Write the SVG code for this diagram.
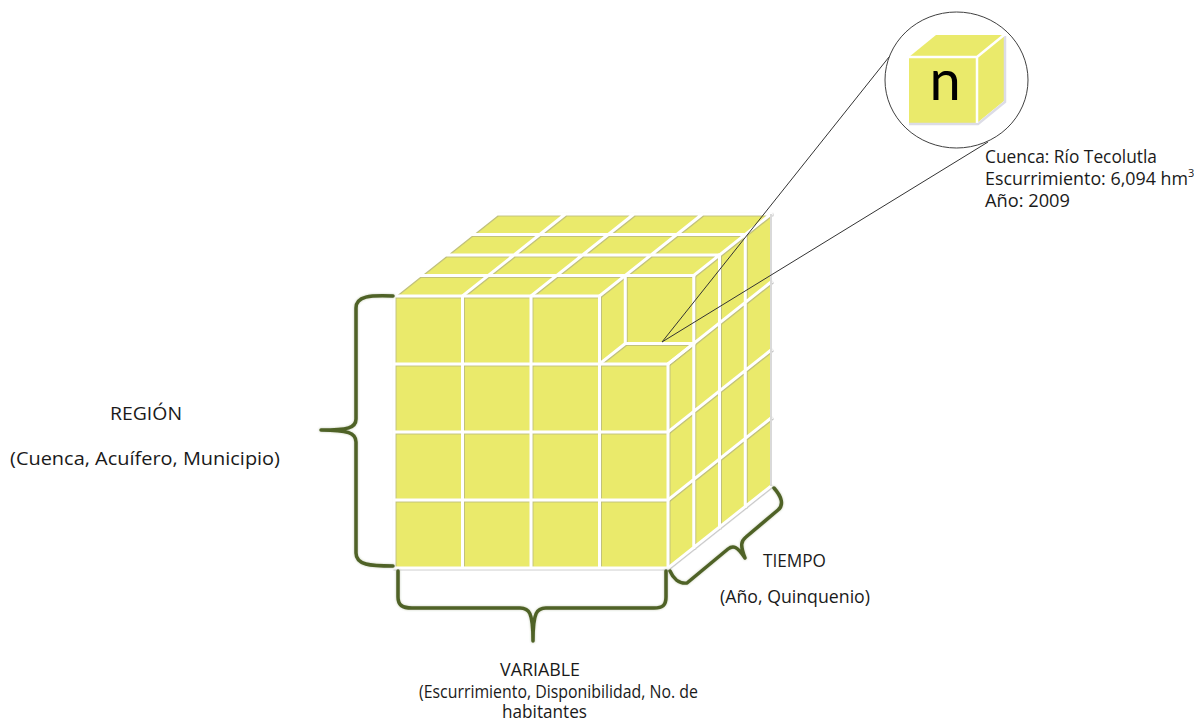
<svg xmlns="http://www.w3.org/2000/svg" width="1194" height="723" viewBox="0 0 1194 723">
  <defs>
    <style>
      .txt { font-family: "Open Sans", Lato, sans-serif; font-size: 18px; fill: #1a1a1a; }
      .face { fill: #EAEA6B; }
      .grid { stroke: #ffffff; stroke-width: 3; stroke-linecap: square; fill: none; }
      .edge { stroke: #d7d7d7; stroke-width: 2; fill: none; }
      .brace { fill: none; stroke: #4F6228; stroke-width: 3.5; stroke-linecap: round; stroke-linejoin: round; }
      .link { stroke: #333333; stroke-width: 1; fill: none; }
    </style>
    <filter id="lineShade" x="-5%" y="-5%" width="110%" height="110%">
      <feDropShadow dx="0.8" dy="0.8" stdDeviation="0.6" flood-color="#8c8c8c" flood-opacity="0.55"/>
    </filter>
    <filter id="braceGlow" x="-20%" y="-20%" width="140%" height="140%">
      <feGaussianBlur in="SourceGraphic" stdDeviation="0.5" result="b"/>
      <feDropShadow in="b" dx="0" dy="0" stdDeviation="1.2" flood-color="#4F6228" flood-opacity="0.35"/>
    </filter>
  </defs>

  <rect width="1194" height="723" fill="#ffffff"/>

  <!-- 4x4x4 data cube with the top-right-front cell pulled out -->
  <g id="cube">
    <polygon class="face" points="394,568 394,296 497,214 771,214 771,486 668,568"/>
    <polyline class="edge" points="771,214 771,486 668,568"/>
    <g filter="url(#lineShade)">
      <!-- front face -->
      <path class="grid" d="M394,296 V568 M462.5,296 V568 M531,296 V568 M599.5,296 V568 M668,364 V568
                           M394,296 H599.5 M394,364 H668 M394,432 H668 M394,500 H668 M394,568 H668"/>
      <!-- recess around the removed cell -->
      <path class="grid" d="M599.5,364 L625.25,343.5 M625.25,275.5 V343.5 M625.25,343.5 H693.75 M668,364 L693.75,343.5"/>
      <!-- top face -->
      <path class="grid" d="M394,296 L497,214 M462.5,296 L565.5,214 M531,296 L634,214 M599.5,296 L702.5,214 M693.75,275.5 L771,214
                           M419.75,275.5 H693.75 M445.5,255 H719.5 M471.25,234.5 H745.25 M497,214 H771"/>
      <!-- right face -->
      <path class="grid" d="M693.75,275.5 V547.5 M719.5,255 V527 M745.25,234.5 V506.5
                           M668,364 L771,282 M668,432 L771,350 M668,500 L771,418 M668,568 L771,486"/>
    </g>
    <line x1="771" y1="214" x2="771" y2="486" stroke="#d9d9d9" stroke-width="2"/>
  </g>

  <!-- call-out lines from the pulled-out cell to the magnified view -->
  <g id="connectors">
    <line class="link" x1="662" y1="342" x2="889" y2="57"/>
    <line class="link" x1="662" y1="342" x2="988" y2="142"/>
  </g>

  <!-- magnified single cell -->
  <g id="zoom-cell">
    <ellipse cx="956.5" cy="80" rx="71.5" ry="68" fill="#ffffff" stroke="#404040" stroke-width="1"/>
    <polygon class="face" points="909,57 977,57 977,123 909,123"/>
    <polygon class="face" points="909,57 936,35 1004,35 977,57"/>
    <polygon class="face" points="977,57 1004,35 1004,101 977,123"/>
    <polyline points="1005,36 1005,102 978,124 909,124" fill="none" stroke="#dcdce6" stroke-width="2.5"/>
    <path d="M909,57 H977 V123 M977,57 L1004,35" fill="none" stroke="#ffffff" stroke-width="2.5"/>
    <text x="945" y="100" text-anchor="middle" font-family="Lato, 'Open Sans', sans-serif" font-size="56" fill="#000000">n</text>
  </g>

  <g id="cell-info" class="txt">
    <text x="985" y="163" textLength="172" lengthAdjust="spacingAndGlyphs">Cuenca: Río Tecolutla</text>
    <text x="985" y="185" textLength="203" lengthAdjust="spacingAndGlyphs">Escurrimiento: 6,094 hm</text>
    <text x="1188" y="177" font-size="11">3</text>
    <text x="985" y="207" textLength="85" lengthAdjust="spacingAndGlyphs">Año: 2009</text>
  </g>

  <!-- REGIÓN axis -->
  <g id="axis-region">
    <path class="brace" filter="url(#braceGlow)" d="M393,296 C370,295 356,296 356,308 L356,419 C356,428 348,430 321,430 C348,430 356,433 356,442 L356,553 C356,565 370,566 393,566"/>
    <text class="txt" x="110" y="420" textLength="72" lengthAdjust="spacingAndGlyphs">REGIÓN</text>
    <text class="txt" x="10" y="465" textLength="270" lengthAdjust="spacingAndGlyphs">(Cuenca, Acuífero, Municipio)</text>
  </g>

  <!-- VARIABLE axis -->
  <g id="axis-variable">
    <path class="brace" filter="url(#braceGlow)" d="M398,571 L398,597 C398,605 402,608 412,608 L520,608 C529,608 533,612 533,641 C533,612 537,608 546,608 L654,608 C663,608 666,605 666,597 L666,571"/>
    <text class="txt" x="500" y="676" textLength="80" lengthAdjust="spacingAndGlyphs">VARIABLE</text>
    <text class="txt" x="419" y="698" textLength="279" lengthAdjust="spacingAndGlyphs">(Escurrimiento, Disponibilidad, No. de</text>
    <text class="txt" x="502" y="718" font-size="17.5" textLength="85" lengthAdjust="spacingAndGlyphs">habitantes</text>
  </g>

  <!-- TIEMPO axis -->
  <g id="axis-tiempo">
    <path class="brace" filter="url(#braceGlow)" d="M670,571 C673,578 679,584 687,583 L728,549 C733,545 737,546 745,558 C740,545 741,541 746,537 L778,510 C784,505 782,497 774,488"/>
    <text class="txt" x="763" y="567" textLength="63" lengthAdjust="spacingAndGlyphs">TIEMPO</text>
    <text class="txt" x="720" y="603" textLength="150" lengthAdjust="spacingAndGlyphs">(Año, Quinquenio)</text>
  </g>
</svg>
